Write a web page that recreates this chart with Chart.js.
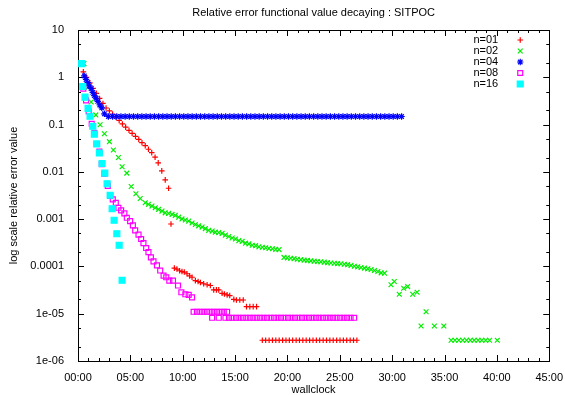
<!DOCTYPE html>
<html>
<head>
<meta charset="utf-8">
<title>Relative error functional value decaying : SITPOC</title>
<script src="https://cdn.jsdelivr.net/npm/chart.js@4"></script>
<style>
  body { margin: 0; background: #fff; }
</style>
</head>
<body>
<canvas id="chart" width="565" height="395"></canvas>
<script>
// ===== DADOS (wallclock em minutos, erro relativo) =====
const seriesNames = ['n=01', 'n=02', 'n=04', 'n=08', 'n=16'];

const n01Time = [
  0.51, 0.81, 1.13, 1.44, 1.75, 2.06, 2.38, 2.68, 3.00, 3.30, 3.62, 3.93, 4.24, 4.55,
  4.87, 5.17, 5.49, 5.80, 6.11, 6.42, 6.73, 7.04, 7.36, 7.66, 8.00, 8.33, 8.65, 8.88,
  9.20, 9.45, 9.70, 9.93, 10.15, 10.41, 10.66, 10.89, 11.21, 11.47, 11.69, 12.00, 12.33, 12.64,
  12.96, 13.22, 13.44, 13.76, 13.98, 14.24, 14.49, 14.88, 15.13, 15.45, 15.78, 16.09, 16.41, 16.73, 17.05,
  17.60, 17.92, 18.25, 18.57, 18.89, 19.21, 19.54, 19.86, 20.18, 20.50,
  20.83, 21.15, 21.47, 21.79, 22.12, 22.44, 22.76, 23.08, 23.41, 23.73,
  24.05, 24.37, 24.70, 25.02, 25.34, 25.66, 25.99, 26.31, 26.63
];
const n01Error = [
  1.30, 1.00, 0.76, 0.58, 0.457, 0.357, 0.28, 0.224, 0.194, 0.167, 0.143, 0.122, 0.103, 0.0885,
  0.0757, 0.0653, 0.0564, 0.0487, 0.0414, 0.0357, 0.0301, 0.0254, 0.0204, 0.0155, 0.0105, 0.00676, 0.0045, 0.00079,
  9.2e-5, 8.8e-5, 8.1e-5, 7.8e-5, 7.6e-5, 7.0e-5, 6.3e-5, 5.9e-5, 5.0e-5, 4.8e-5, 4.57e-5, 4.3e-5, 4.1e-5, 3.95e-5,
  3.2e-5, 3.2e-5, 3.2e-5, 2.7e-5, 2.62e-5, 2.5e-5, 2.42e-5, 2.01e-5, 1.95e-5, 1.95e-5, 1.95e-5, 1.41e-5, 1.41e-5, 1.41e-5, 1.41e-5,
  2.75e-6, 2.75e-6, 2.75e-6, 2.75e-6, 2.75e-6, 2.75e-6, 2.75e-6, 2.75e-6, 2.75e-6, 2.75e-6,
  2.75e-6, 2.75e-6, 2.75e-6, 2.75e-6, 2.75e-6, 2.75e-6, 2.75e-6, 2.75e-6, 2.75e-6, 2.75e-6,
  2.75e-6, 2.75e-6, 2.75e-6, 2.75e-6, 2.75e-6, 2.75e-6, 2.75e-6, 2.75e-6, 2.75e-6
];

const n02Time = [
  0.57, 0.99, 1.26, 1.70, 2.11, 2.52, 3.00, 3.38, 3.86, 4.21, 4.66, 5.08, 5.53, 5.94,
  6.42, 6.73, 7.06, 7.38, 7.69, 8.02, 8.33, 8.65, 8.98, 9.29, 9.61, 9.93, 10.25, 10.57,
  10.89, 11.21, 11.52, 11.85, 12.16, 12.48, 12.81, 13.12, 13.44, 13.76, 14.08, 14.40, 14.72, 15.04,
  15.36, 15.68, 16.00, 16.32, 16.64, 16.96, 17.28, 17.60, 17.92, 18.24, 18.56, 18.88, 19.20,
  19.67, 19.99, 20.31, 20.63, 20.95, 21.27, 21.59, 21.91, 22.23, 22.55,
  22.87, 23.19, 23.51, 23.83, 24.15, 24.47, 24.79, 25.11, 25.43, 25.75,
  26.07, 26.39, 26.71, 27.03, 27.35, 27.67, 27.99, 28.31, 28.63, 28.95, 29.27,
  29.89, 30.20, 30.68, 31.10, 31.48, 31.96, 32.38, 32.76, 33.24, 34.03, 34.93,
  35.63, 36.00, 36.36, 36.73, 37.10, 37.46, 37.83, 38.20, 38.56, 38.93, 39.30, 40.04
];
const n02Error = [
  1.95, 0.62, 0.30, 0.16, 0.099, 0.064, 0.0435, 0.029, 0.0201, 0.0128, 0.0094, 0.0049, 0.00345, 0.00273,
  0.00222, 0.00206, 0.00189, 0.00174, 0.00161, 0.00148, 0.00136, 0.00132, 0.00126, 0.0012, 0.0011, 0.00101, 0.00096, 0.00091,
  0.00083, 0.00077, 0.00072, 0.00068, 0.00063, 0.00058, 0.00056, 0.00053, 0.00052, 0.0005, 0.00046, 0.00043, 0.0004, 0.00038,
  0.00035, 0.00034, 0.00031, 0.0003, 0.00028, 0.000275, 0.00026, 0.000254, 0.000248, 0.00024, 0.000236, 0.00023, 0.000227,
  0.000155, 0.000152, 0.000149, 0.000146, 0.000142, 0.000139, 0.000136, 0.000134, 0.000131, 0.000129,
  0.000127, 0.000125, 0.000123, 0.00012, 0.000118, 0.000117, 0.000115, 0.000114, 0.000111, 0.000109,
  0.000105, 0.000101, 9.8e-5, 9.5e-5, 9.2e-5, 8.9e-5, 8.6e-5, 8.2e-5, 7.8e-5, 7.3e-5, 7.2e-5,
  4.1e-5, 4.8e-5, 2.58e-5, 3.45e-5, 3.75e-5, 2.58e-5, 2.84e-5, 5.5e-6, 1.1e-5, 5.5e-6, 5.5e-6,
  2.75e-6, 2.75e-6, 2.75e-6, 2.75e-6, 2.75e-6, 2.75e-6, 2.75e-6, 2.75e-6, 2.75e-6, 2.75e-6, 2.75e-6, 2.75e-6
];

const n04Time = [
  0.60, 0.77, 0.93, 1.09, 1.25, 1.41, 1.56, 1.73, 1.89, 2.08, 2.27, 2.52,
  2.9, 3.3, 3.7, 4.1, 4.5, 4.9, 5.3, 5.7, 6.1, 6.5,
  6.9, 7.3, 7.7, 8.1, 8.5, 8.9, 9.3, 9.7, 10.1, 10.5,
  10.9, 11.3, 11.7, 12.1, 12.5, 12.9, 13.3, 13.7, 14.1, 14.5,
  14.9, 15.3, 15.7, 16.1, 16.5, 16.9, 17.3, 17.7, 18.1, 18.5,
  18.9, 19.3, 19.7, 20.1, 20.5, 20.9, 21.3, 21.7, 22.1, 22.5,
  22.9, 23.3, 23.7, 24.1, 24.5, 24.9, 25.3, 25.7, 26.1, 26.5,
  26.9, 27.3, 27.7, 28.1, 28.5, 28.9, 29.3, 29.7, 30.1, 30.5, 30.9
];
const n04Error = [
  1.07, 0.90, 0.77, 0.66, 0.575, 0.48, 0.41, 0.36, 0.31, 0.26, 0.226, 0.169,
  0.148, 0.148, 0.148, 0.148, 0.148, 0.148, 0.148, 0.148, 0.148, 0.148,
  0.148, 0.148, 0.148, 0.148, 0.148, 0.148, 0.148, 0.148, 0.148, 0.148,
  0.148, 0.148, 0.148, 0.148, 0.148, 0.148, 0.148, 0.148, 0.148, 0.148,
  0.148, 0.148, 0.148, 0.148, 0.148, 0.148, 0.148, 0.148, 0.148, 0.148,
  0.148, 0.148, 0.148, 0.148, 0.148, 0.148, 0.148, 0.148, 0.148, 0.148,
  0.148, 0.148, 0.148, 0.148, 0.148, 0.148, 0.148, 0.148, 0.148, 0.148,
  0.148, 0.148, 0.148, 0.148, 0.148, 0.148, 0.148, 0.148, 0.148, 0.148, 0.148
];

const n08Time = [
  0.34, 0.51, 0.77, 1.02, 1.31, 1.56, 1.79, 2.04, 2.27, 2.52, 2.84, 3.07, 3.32,
  3.61, 3.86, 4.12, 4.43, 4.66, 4.98, 5.24, 5.46, 5.78, 6.03, 6.25, 6.51, 6.73,
  6.96, 7.21, 7.54, 7.85, 8.17, 8.43, 8.72, 9.07, 9.55, 9.87, 10.25, 10.57, 10.89,
  11.04, 11.36, 11.68, 12.00, 12.32, 12.64, 12.96, 13.28, 13.60, 13.92, 14.24,
  12.81, 13.44,
  14.08, 14.41, 14.74, 15.08, 15.41, 15.74, 16.07, 16.40, 16.74, 17.07,
  17.40, 17.73, 18.06, 18.40, 18.73, 19.06, 19.39, 19.72, 20.06, 20.39,
  20.72, 21.05, 21.38, 21.72, 22.05, 22.38, 22.71, 23.04, 23.38, 23.71,
  24.04, 24.37, 24.70, 25.04, 25.37, 25.70, 26.03, 26.37
];
const n08Error = [
  1.95, 0.575, 0.324, 0.189, 0.104, 0.0665, 0.0388, 0.0267, 0.0146, 0.0092, 0.00504, 0.00308, 0.00262,
  0.00222, 0.00174, 0.00153, 0.00132, 0.00107, 0.00091, 0.00074, 0.00058, 0.00047, 0.00038, 0.00031, 0.000245, 0.000201,
  0.000155, 0.000128, 0.000105, 8.2e-5, 6.4e-5, 5.9e-5, 5.0e-5, 5.0e-5, 3.95e-5, 2.84e-5, 2.58e-5, 2.5e-5, 2.22e-5,
  1.1e-5, 1.1e-5, 1.1e-5, 1.1e-5, 1.1e-5, 1.1e-5, 1.1e-5, 1.1e-5, 1.1e-5, 1.1e-5, 1.1e-5,
  8.2e-6, 8.2e-6,
  8.2e-6, 8.2e-6, 8.2e-6, 8.2e-6, 8.2e-6, 8.2e-6, 8.2e-6, 8.2e-6, 8.2e-6, 8.2e-6,
  8.2e-6, 8.2e-6, 8.2e-6, 8.2e-6, 8.2e-6, 8.2e-6, 8.2e-6, 8.2e-6, 8.2e-6, 8.2e-6,
  8.2e-6, 8.2e-6, 8.2e-6, 8.2e-6, 8.2e-6, 8.2e-6, 8.2e-6, 8.2e-6, 8.2e-6, 8.2e-6,
  8.2e-6, 8.2e-6, 8.2e-6, 8.2e-6, 8.2e-6, 8.2e-6, 8.2e-6, 8.2e-6
];

const n16Time = [
  0.35, 0.45, 0.67, 0.96, 1.15, 1.41, 1.56, 1.79, 2.04,
  2.30, 2.56, 2.78, 3.07, 3.26, 3.45, 3.71, 3.93, 4.21
];
const n16Error = [
  1.95, 0.64, 0.38, 0.22, 0.15, 0.092, 0.063, 0.039, 0.025,
  0.015, 0.0094, 0.0056, 0.0032, 0.00166, 0.00095, 0.00049, 0.00028, 0.000051
];

// eixos
const xTickValues = [0, 5, 10, 15, 20, 25, 30, 35, 40, 45];
const xTickLabels = ['00:00', '05:00', '10:00', '15:00', '20:00', '25:00', '30:00', '35:00', '40:00', '45:00'];
const yTickValues = [1e-6, 1e-5, 1e-4, 1e-3, 1e-2, 1e-1, 1, 10];
const yTickLabels = ['1e-06', '1e-05', '0.0001', '0.001', '0.01', '0.1', '1', '10'];

// ===== ESTILO =====
const FONT = '"Liberation Sans", Arial, Helvetica, sans-serif';
Chart.defaults.font.family = FONT;
Chart.defaults.font.size = 11;
Chart.defaults.color = '#000';

const toPoints = (xs, ys) => xs.map((x, i) => ({ x: x, y: ys[i] }));

const styles = [
  { color: '#ff0000', pointStyle: 'cross', radius: 2.8, fill: 'rgba(0,0,0,0)' },
  { color: '#00ee00', pointStyle: 'crossRot', radius: 3.4, fill: 'rgba(0,0,0,0)' },
  { color: '#0000ff', pointStyle: 'star', radius: 3.2, fill: 'rgba(0,0,0,0)' },
  { color: '#ff00ff', pointStyle: 'rect', radius: 3.5, fill: 'rgba(0,0,0,0)' },
  { color: '#00ffff', pointStyle: 'rect', radius: 4.2, fill: '#00ffff' }
];
const seriesData = [
  toPoints(n01Time, n01Error),
  toPoints(n02Time, n02Error),
  toPoints(n04Time, n04Error),
  toPoints(n08Time, n08Error),
  toPoints(n16Time, n16Error)
];

const datasets = seriesNames.map((name, i) => ({
  label: name,
  data: seriesData[i],
  showLine: false,
  pointStyle: styles[i].pointStyle,
  pointRadius: styles[i].radius,
  pointBorderWidth: 1.2,
  borderColor: styles[i].color,
  backgroundColor: styles[i].fill,
  // gnuplot desenha a ultima serie por cima
  order: seriesNames.length - 1 - i
}));

// ===== MOLDURA E TICKS PARA DENTRO (estilo gnuplot) =====
const gnuplotFrame = {
  id: 'gnuplotFrame',
  beforeDatasetsDraw(chart) {
    const { ctx, chartArea: a, scales: { x, y } } = chart;
    ctx.save();
    ctx.strokeStyle = '#000';
    ctx.lineWidth = 1;
    ctx.beginPath();
    // eixo x: maiores a cada 5 min, menores a cada 1 min
    for (let m = xTickValues[0]; m <= xTickValues[xTickValues.length - 1]; m++) {
      const px = Math.round(x.getPixelForValue(m)) + 0.5;
      const len = xTickValues.includes(m) ? 6 : 3;
      ctx.moveTo(px, a.bottom); ctx.lineTo(px, a.bottom - len);
      ctx.moveTo(px, a.top); ctx.lineTo(px, a.top + len);
    }
    // eixo y: decadas e menores em 2x e 5x
    yTickValues.forEach((v, k) => {
      const marks = [[v, 6]];
      if (k < yTickValues.length - 1) marks.push([v * 2, 3], [v * 5, 3]);
      marks.forEach(([val, len]) => {
        const py = Math.round(y.getPixelForValue(val)) + 0.5;
        ctx.moveTo(a.left, py); ctx.lineTo(a.left + len, py);
        ctx.moveTo(a.right, py); ctx.lineTo(a.right - len, py);
      });
    });
    ctx.stroke();
    ctx.strokeRect(Math.round(a.left) + 0.5, Math.round(a.top) + 0.5,
      Math.round(a.right - a.left), Math.round(a.bottom - a.top));
    ctx.restore();
  }
};

// ===== LEGENDA (texto a esquerda, simbolo a direita) =====
const gnuplotKey = {
  id: 'gnuplotKey',
  afterDatasetsDraw(chart) {
    const { ctx, chartArea: a } = chart;
    ctx.save();
    ctx.font = '11px ' + FONT;
    ctx.textAlign = 'right';
    ctx.textBaseline = 'middle';
    seriesNames.forEach((name, i) => {
      const ly = a.top + 10 + i * 11;
      ctx.fillStyle = '#000';
      ctx.fillText(name, a.right - 51, ly);
      ctx.strokeStyle = styles[i].color;
      ctx.fillStyle = styles[i].fill;
      ctx.lineWidth = 1.2;
      Chart.helpers.drawPoint(ctx, {
        pointStyle: styles[i].pointStyle,
        radius: styles[i].radius,
        rotation: 0,
        borderWidth: 1.2
      }, a.right - 29, ly);
    });
    ctx.restore();
  }
};

new Chart(document.getElementById('chart'), {
  type: 'scatter',
  data: { datasets: datasets },
  options: {
    responsive: false,
    animation: false,
    events: [],
    layout: { padding: { right: 7 } },
    plugins: {
      legend: { display: false },
      tooltip: { enabled: false },
      title: {
        display: true,
        fullSize: false,
        text: 'Relative error functional value decaying : SITPOC',
        font: { size: 11, weight: 'normal' },
        color: '#000',
        padding: { top: 6, bottom: 10.8 }
      }
    },
    scales: {
      x: {
        type: 'linear',
        min: 0,
        max: 45,
        grid: { display: false },
        border: { display: false },
        afterBuildTicks: s => { s.ticks = xTickValues.map(v => ({ value: v })); },
        afterFit: s => { s.height = 34; },
        ticks: {
          padding: 2,
          maxRotation: 0,
          autoSkip: false,
          callback: (v) => xTickLabels[xTickValues.indexOf(v)]
        },
        title: { display: true, text: 'wallclock', font: { size: 11 }, padding: { top: 0, bottom: -2 } }
      },
      y: {
        type: 'logarithmic',
        min: 1e-6,
        max: 10,
        grid: { display: false },
        border: { display: false },
        afterBuildTicks: s => { s.ticks = yTickValues.map(v => ({ value: v })); },
        afterFit: s => { s.width = 78; },
        ticks: {
          padding: 6,
          autoSkip: false,
          callback: (v) => {
            const k = yTickValues.findIndex(t => Math.abs(Math.log10(t) - Math.log10(v)) < 1e-6);
            return k >= 0 ? yTickLabels[k] : '';
          }
        },
        title: { display: true, text: 'log scale relative error value', font: { size: 11 }, padding: { top: 7, bottom: 0 } }
      }
    }
  },
  plugins: [gnuplotFrame, gnuplotKey]
});
</script>
</body>
</html>
